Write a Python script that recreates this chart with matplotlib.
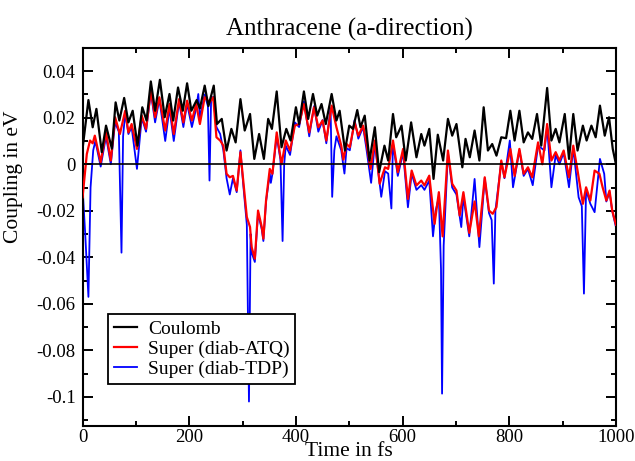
"""Anthracene (a-direction) coupling vs time, Grace-like styling."""

import matplotlib

matplotlib.use("Agg")
import matplotlib.pyplot as plt
from matplotlib.ticker import FuncFormatter, MultipleLocator

# Coulomb coupling (eV)
t_coulomb = [
    0, 11, 19, 26, 36, 44, 55, 62, 69, 78,
    86, 94, 103, 112, 120, 128, 136, 145, 154, 163,
    170, 179, 188, 196, 204, 214, 220, 229, 236, 246,
    252, 261, 270, 279, 287, 296, 304, 314, 322, 331,
    340, 348, 355, 364, 373, 382, 390, 400, 406, 415,
    423, 432, 440, 448, 456, 467, 476, 482, 492, 500,
    507, 515, 521, 529, 538, 548, 556, 566, 573, 582,
    588, 598, 606, 616, 626, 635, 641, 650, 658, 666,
    676, 685, 693, 701, 712, 718, 726, 735, 744, 752,
    760, 768, 776, 785, 794, 802, 810, 819, 827, 835,
    843, 852, 860, 871, 879, 887, 894, 904, 912, 920,
    928, 938, 945, 954, 962, 970, 979, 987, 994, 1000,
]
v_coulomb = [
    0.0066, 0.0276, 0.0159, 0.0238, 0.0052, 0.0166, 0.0067, 0.0266, 0.0188, 0.0285,
    0.018, 0.023, 0.008, 0.0245, 0.0188, 0.0356, 0.023, 0.0363, 0.0202, 0.0302,
    0.0188, 0.033, 0.023, 0.0348, 0.023, 0.0276, 0.024, 0.0338, 0.025, 0.0338,
    0.0173, 0.0195, 0.0059, 0.0152, 0.0094, 0.028, 0.0145, 0.0216, 0.0023, 0.013,
    0.0023, 0.0195, 0.0152, 0.0313, 0.0073, 0.0152, 0.0102, 0.0245, 0.0173, 0.0313,
    0.0195, 0.0302, 0.0209, 0.0259, 0.0173, 0.0302, 0.0188, 0.023, 0.0059, 0.0166,
    0.0152, 0.0233, 0.0159, 0.0209, 0.0016, 0.0159, -0.0034, 0.008, 0.0016, 0.0216,
    0.0116, 0.0166, 0.0016, 0.018, 0.003, 0.013, 0.008, 0.0152, -0.0063, 0.0127,
    0.0016, 0.0195, 0.0123, 0.0173, -0.0013, 0.0109, 0.003, 0.0145, 0.0016, 0.0245,
    0.0059, 0.0087, 0.0037, 0.0116, 0.0112, 0.023, 0.0102, 0.023, 0.0094, 0.0137,
    0.0109, 0.0216, 0.008, 0.0328, 0.0102, 0.0152, 0.0094, 0.0216, 0.0023, 0.0216,
    0.0059, 0.0166, 0.0102, 0.0166, 0.0116, 0.0252, 0.0123, 0.0202, 0.0066, 0.0,
]

# Super (diab-ATQ)
t_atq = [
    0, 8, 14, 19, 23, 34, 44, 53, 61, 70,
    80, 86, 92, 102, 111, 119, 128, 136, 144, 155,
    163, 171, 181, 189, 196, 205, 213, 220, 229, 238,
    245, 251, 258, 264, 270, 276, 282, 289, 296, 301,
    308, 314, 317, 323, 329, 336, 339, 344, 351, 356,
    364, 373, 381, 389, 398, 406, 415, 425, 434, 442,
    450, 457, 467, 476, 485, 489, 495, 501, 510, 517,
    526, 532, 540, 548, 557, 567, 573, 582, 591, 601,
    610, 617, 626, 635, 641, 650, 660, 668, 675, 685,
    693, 701, 707, 714, 725, 735, 743, 754, 762, 769,
    776, 785, 791, 802, 810, 819, 827, 835, 843, 854,
    862, 871, 879, 887, 894, 902, 912, 920, 928, 938,
    944, 952, 960, 969, 975, 982, 988, 993, 1000,
]
v_atq = [
    -0.0142, 0.0044, 0.0102, 0.009, 0.0123, 0.0009, 0.0137, 0.0016, 0.0202, 0.013,
    0.023, 0.0137, 0.0173, 0.0066, 0.0209, 0.0152, 0.0316, 0.0202, 0.0288, 0.0145,
    0.0259, 0.013, 0.028, 0.018, 0.0273, 0.0188, 0.0259, 0.0173, 0.0288, 0.0266,
    0.0288, 0.0116, 0.0102, 0.008, -0.0041, -0.0056, -0.005, -0.0113, 0.0052, -0.0063,
    -0.0227, -0.027, -0.0356, -0.0406, -0.0199, -0.027, -0.032, -0.0156, -0.002, -0.0041,
    0.0137, 0.0, 0.0102, 0.0059, 0.0166, 0.0173, 0.0259, 0.0137, 0.0245, 0.0159,
    0.0188, 0.0102, 0.0252, 0.0159, 0.008, 0.002, 0.0087, 0.0073, 0.018, 0.0123,
    0.0166, 0.0094, -0.002, 0.0102, -0.0084, -0.0013, -0.002, 0.0102, -0.0034, 0.0066,
    -0.0149, -0.0027, -0.0091, -0.007, -0.0091, -0.0049, -0.0256, -0.012, -0.031, 0.0059,
    -0.0084, -0.0113, -0.022, -0.012, -0.0295, -0.016, -0.031, -0.0056, -0.0199, -0.0213,
    -0.0184, 0.0016, -0.0056, 0.0066, -0.005, 0.0066, -0.0041, -0.0013, -0.0056, 0.0094,
    0.0, 0.0173, 0.0016, 0.0052, 0.0016, 0.0059, -0.0056, 0.008, -0.0027, -0.017,
    -0.0099, -0.0156, -0.0027, -0.0041, -0.0099, -0.0156, -0.0113, -0.0199, -0.026,
]

# Super (diab-TDP)
t_tdp = [
    0, 5, 11, 15, 20, 24, 34, 44, 53, 61,
    68, 73, 76, 80, 86, 92, 102, 111, 119, 128,
    136, 144, 155, 163, 171, 181, 189, 196, 205, 213,
    217, 220, 229, 235, 238, 241, 245, 251, 258, 264,
    270, 276, 282, 289, 296, 301, 308, 312, 315, 317,
    323, 329, 336, 339, 344, 351, 353, 356, 364, 371,
    375, 378, 381, 389, 398, 406, 415, 425, 434, 442,
    450, 457, 465, 468, 472, 476, 485, 491, 495, 501,
    510, 517, 526, 532, 541, 548, 560, 567, 573, 579,
    582, 591, 601, 610, 617, 626, 635, 641, 650, 657,
    662, 668, 672, 674, 677, 685, 693, 701, 710, 714,
    725, 735, 744, 754, 762, 767, 771, 774, 785, 791,
    801, 807, 810, 819, 827, 835, 844, 854, 866, 871,
    879, 887, 894, 902, 912, 920, 930, 936, 940, 944,
    952, 960, 970, 978, 982, 988, 993, 1000,
]
v_tdp = [
    -0.01, -0.03, -0.057, -0.01, 0.006, 0.01, -0.001, 0.012, 0.0, 0.018,
    0.014, -0.038, 0.012, 0.022, 0.013, 0.016, -0.002, 0.02, 0.014, 0.031,
    0.018, 0.028, 0.01, 0.024, 0.01, 0.027, 0.016, 0.026, 0.016, 0.024,
    0.0302, 0.02, 0.03, 0.025, -0.007, 0.028, 0.029, 0.016, 0.013, 0.006,
    -0.006, -0.013, -0.006, -0.012, 0.006, -0.008, -0.026, -0.102, -0.03, -0.038,
    -0.042, -0.021, -0.028, -0.033, -0.016, -0.004, -0.008, -0.004, 0.012, 0.002,
    -0.033, 0.0, 0.008, 0.004, 0.018, 0.016, 0.027, 0.012, 0.025, 0.014,
    0.019, 0.009, 0.024, -0.014, 0.006, 0.012, 0.006, -0.004, 0.007, 0.006,
    0.019, 0.011, 0.016, 0.007, -0.008, 0.009, -0.014, -0.003, -0.004, -0.019,
    0.009, -0.005, 0.005, -0.0185, -0.004, -0.011, -0.009, -0.011, -0.007, -0.031,
    -0.02, -0.014, -0.045, -0.0986, -0.035, 0.005, -0.01, -0.013, -0.027, -0.014,
    -0.031, -0.0063, -0.0356, -0.006, -0.021, -0.024, -0.0513, -0.02, 0.001, -0.006,
    0.0102, -0.0099, -0.006, 0.006, -0.005, -0.002, -0.009, 0.008, 0.0059, 0.016,
    -0.0099, 0.004, 0.0, 0.005, -0.0099, 0.007, -0.0142, -0.018, -0.0556, -0.011,
    -0.017, -0.0206, 0.0023, -0.0041, -0.016, -0.012, -0.02, -0.027,
]

plt.rcParams["font.family"] = ["Liberation Serif", "DejaVu Serif"]
plt.rcParams["axes.unicode_minus"] = False


def fmt_tick(v, _):
    v = round(v, 4)
    if abs(v) < 1e-9:
        return "0"
    return f"{v:g}"


fig = plt.figure(figsize=(6.35, 4.61), dpi=100)
ax = fig.add_axes([0.130, 0.076, 0.840, 0.820])

ax.plot(t_tdp, v_tdp, color="#0000ff", lw=1.3, label="Super (diab-TDP)", zorder=2)
ax.plot(t_atq, v_atq, color="#ff0000", lw=1.6, label="Super (diab-ATQ)", zorder=3)
ax.plot(t_coulomb, v_coulomb, color="black", lw=1.6, label="Coulomb", zorder=4)
ax.axhline(0, color="black", lw=1.2, zorder=5)

ax.set_xlim(0, 1000)
ax.set_ylim(-0.1125, 0.05)
ax.xaxis.set_major_locator(MultipleLocator(200))
ax.xaxis.set_minor_locator(MultipleLocator(100))
ax.yaxis.set_major_locator(MultipleLocator(0.02))
ax.yaxis.set_minor_locator(MultipleLocator(0.01))
ax.yaxis.set_major_formatter(FuncFormatter(fmt_tick))

ax.tick_params(which="both", direction="in", top=True, right=True, width=1.4)
ax.tick_params(which="major", length=7, labelsize=13.5)
ax.tick_params(axis="x", which="major", pad=2)
ax.tick_params(axis="y", which="major", pad=5)
ax.tick_params(which="minor", length=3.5)
for spine in ax.spines.values():
    spine.set_linewidth(1.5)

ax.set_xlabel("Time in fs", fontsize=15.5)
ax.xaxis.set_label_coords(0.5, -0.043)
ax.set_ylabel("Coupling in eV", fontsize=15.5)
ax.yaxis.set_label_coords(-0.112, 0.66)
ax.set_title("Anthracene (a-direction)", fontsize=18, pad=9)

handles, labels = ax.get_legend_handles_labels()
order = [2, 1, 0]
leg = ax.legend(
    [handles[i] for i in order],
    [labels[i] for i in order],
    loc="lower left",
    bbox_to_anchor=(0.048, 0.111),
    borderaxespad=0,
    fontsize=14,
    handlelength=1.2,
    handletextpad=0.55,
    labelspacing=0.13,
    borderpad=0.3,
    fancybox=False,
    framealpha=1,
    edgecolor="black",
)
leg.get_frame().set_linewidth(1.3)
leg.set_zorder(10)

fig.savefig("out.png", dpi=100)
